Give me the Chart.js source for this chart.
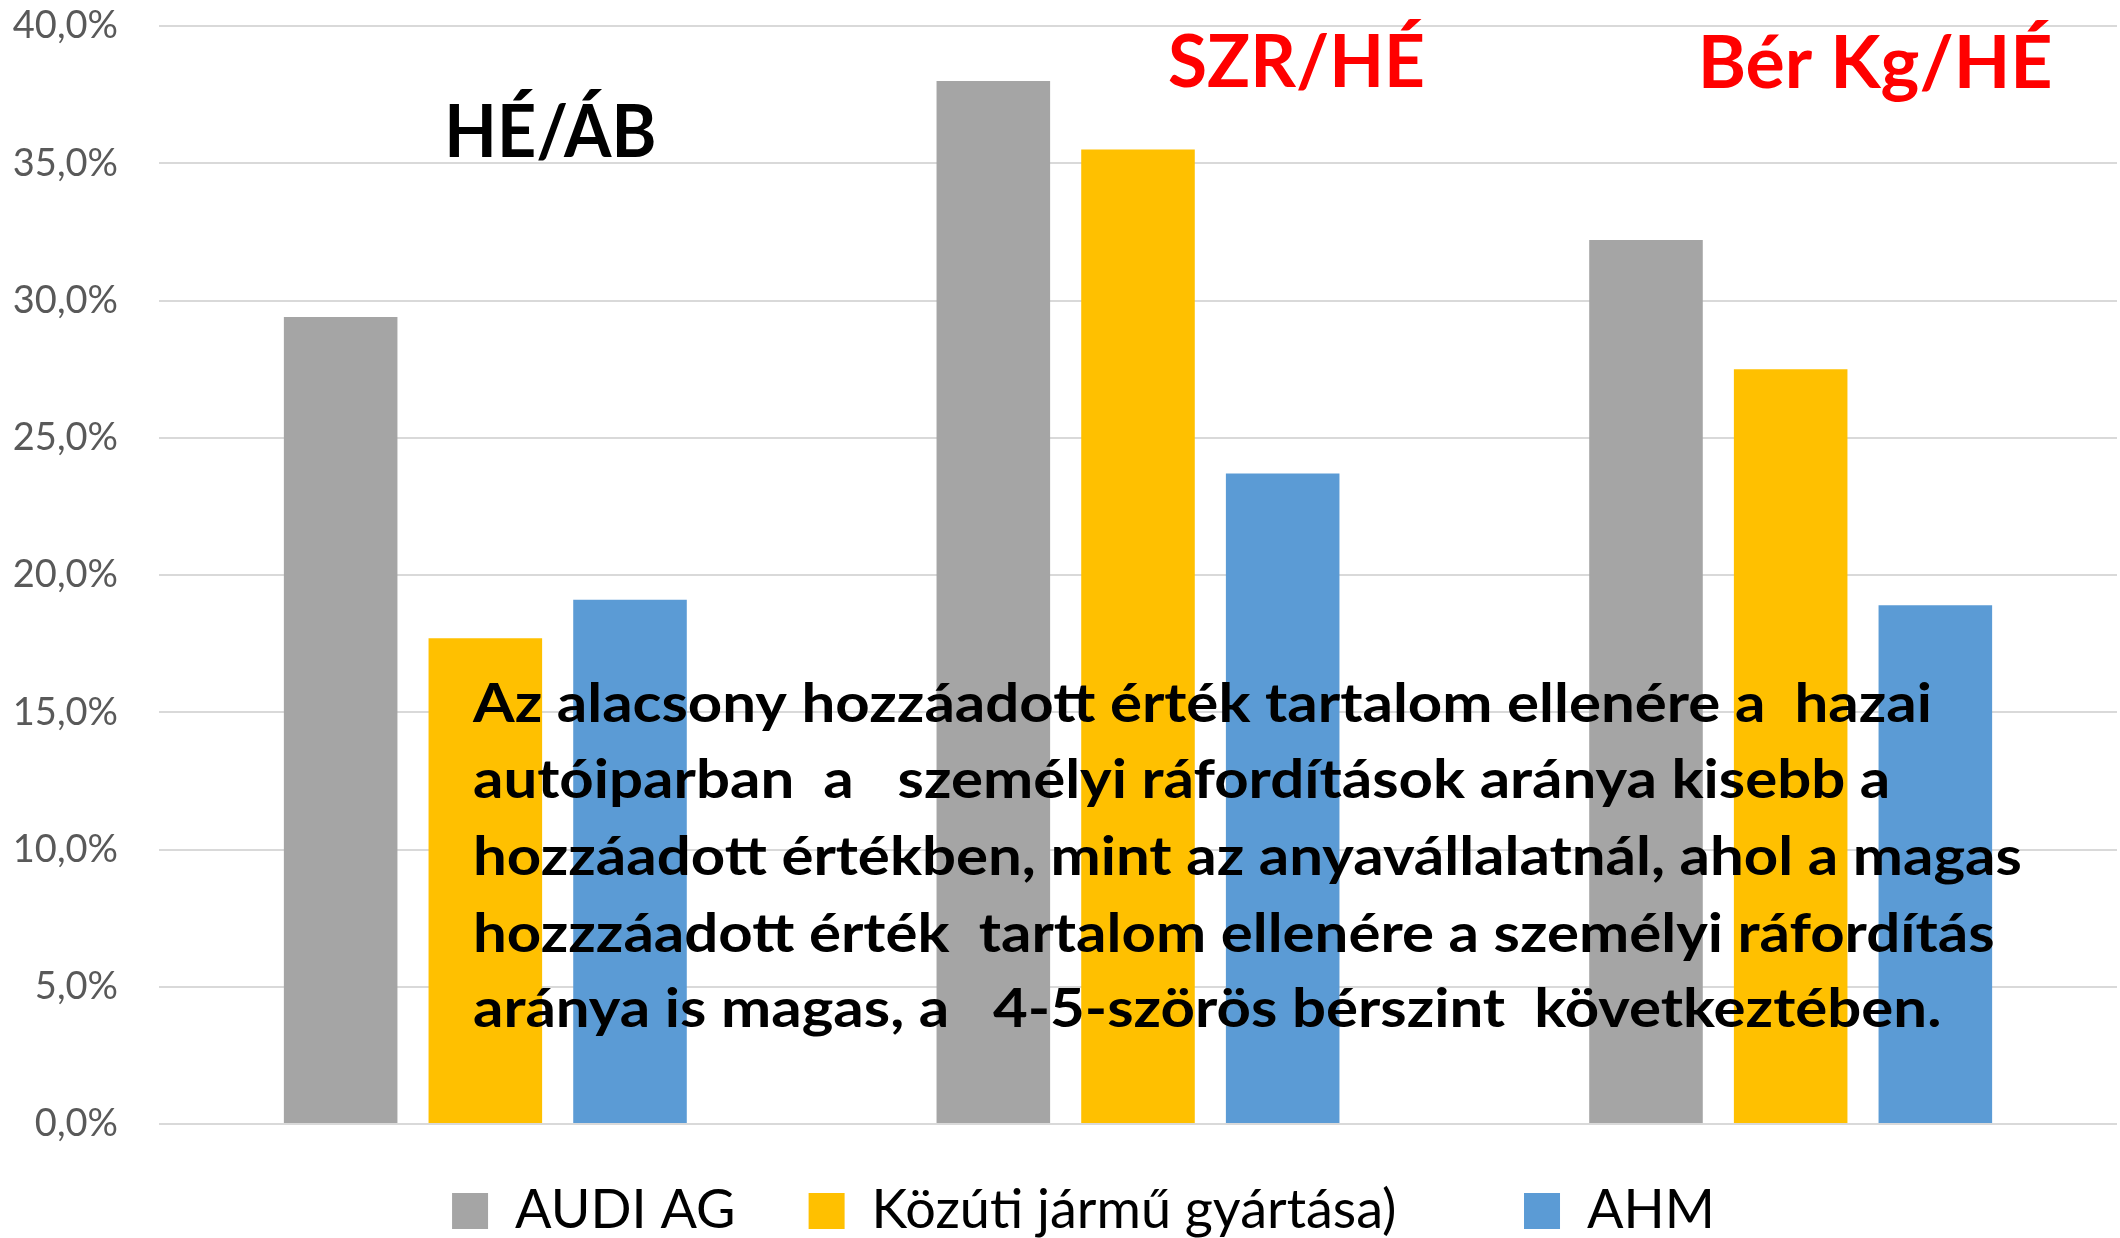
<!DOCTYPE html>
<html><head><meta charset="utf-8">
<script src="https://cdn.jsdelivr.net/npm/chart.js@4.4.1/dist/chart.umd.min.js"></script>
<style>html,body{margin:0;padding:0;background:#fff;overflow:hidden;}</style>
</head><body>
<canvas id="c" width="2120" height="1238" style="width:2120px;height:1238px;display:block"></canvas>
<script>
// ---- data ----
const categories = ['HÉ/ÁB', 'SZR/HÉ', 'Bér Kg/HÉ'];
const seriesNames = ['AUDI AG', 'Közúti jármű gyártása)', 'AHM'];
const audiAG = [29.4, 38.0, 32.2];
const kozutiJarmu = [17.7, 35.5, 27.5];
const ahm = [19.1, 23.7, 18.9];
const yTickValues = [0, 5, 10, 15, 20, 25, 30, 35, 40];
const noteLines = [
  'Az alacsony hozzáadott érték tartalom ellenére a  hazai',
  'autóiparban  a   személyi ráfordítások aránya kisebb a',
  'hozzáadott értékben, mint az anyavállalatnál, ahol a magas',
  'hozzzáadott érték  tartalom ellenére a személyi ráfordítás',
  'aránya is magas, a   4-5-szörös bérszint  következtében.'
];

// ---- styles / layout ----
const colors = ['#A5A5A5', '#FFC000', '#5B9BD5'];
const titleColors = ['#000000', '#FF0000', '#FF0000'];
const titleLayout = [ // offset of left edge from group centre, baseline, target width
  {dx: -41, y: 157, w: 212},
  {dx: 30, y: 87, w: 257},
  {dx: -93, y: 88, w: 355}
];
const FONT = 'Lato, "Open Sans", sans-serif';

const legendShift = {
  id: 'legendShift',
  afterLayout(chart) {
    if (chart.legend) { chart.legend.left += 25; chart.legend.right += 25; }
  }
};

const annotations = {
  id: 'annotations',
  afterDraw(chart) {
    const ctx = chart.ctx;
    const xs = chart.scales.x;
    ctx.save();
    ctx.textBaseline = 'alphabetic';
    ctx.textAlign = 'left';
    ctx.font = 'bold 72px ' + FONT;
    categories.forEach((t, i) => {
      const L = titleLayout[i];
      const w = ctx.measureText(t).width;
      const sx = L.w / w;
      ctx.save();
      ctx.translate(xs.getPixelForValue(i) + L.dx, L.y);
      ctx.scale(sx, 1);
      ctx.fillStyle = titleColors[i];
      ctx.fillText(t, 0, 0);
      ctx.restore();
    });
    ctx.font = 'bold 54px ' + FONT;
    const sx = 1459 / ctx.measureText(noteLines[0]).width;
    const baselines = [722, 798, 875, 952, 1027];
    noteLines.forEach((line, i) => {
      ctx.save();
      ctx.translate(473, baselines[i]);
      ctx.scale(sx, 1);
      ctx.fillStyle = '#000000';
      ctx.fillText(line, 0, 0);
      ctx.restore();
    });
    ctx.restore();
  }
};

const seriesData = [audiAG, kozutiJarmu, ahm];
new Chart(document.getElementById('c'), {
  type: 'bar',
  data: {
    labels: categories,
    datasets: seriesNames.map((n, i) => ({
      label: n,
      data: seriesData[i],
      backgroundColor: colors[i],
      borderWidth: 0,
      categoryPercentage: 0.665,
      barPercentage: 0.785
    }))
  },
  options: {
    responsive: false,
    animation: false,
    devicePixelRatio: 1,
    layout: {padding: {top: 26, right: 3, bottom: -10, left: 0}},
    plugins: {
      tooltip: {enabled: false},
      legend: {
        position: 'bottom',
        labels: {
          font: {family: FONT, size: 54},
          color: '#595959',
          boxWidth: 36,
          boxHeight: 36,
          padding: 5,
          generateLabels(chart) {
            const extra = ['\u2003  ', '\u2003\u2003   ', ''];
            return chart.data.datasets.map((ds, i) => ({
              text: ds.label + extra[i],
              fillStyle: ds.backgroundColor,
              strokeStyle: ds.backgroundColor,
              lineWidth: 0,
              hidden: false,
              datasetIndex: i
            }));
          }
        }
      }
    },
    scales: {
      x: {
        grid: {display: false},
        border: {display: false},
        ticks: {display: false},
        afterFit(s) { s.height = 55; }
      },
      y: {
        min: 0,
        max: 40,
        afterBuildTicks(s) { s.ticks = yTickValues.map(v => ({value: v})); },
        afterFit(s) { s.width = 159; s.paddingTop = 0; s.paddingBottom = 0; },
        grid: {color: '#D9D9D9', lineWidth: 2, drawTicks: false},
        border: {display: false},
        ticks: {
          padding: 41,
          color: '#595959',
          font: {family: FONT, size: 38},
          callback: v => v.toFixed(1).replace('.', ',') + '%'
        }
      }
    }
  },
  plugins: [legendShift, annotations]
});
</script>
</body></html>
